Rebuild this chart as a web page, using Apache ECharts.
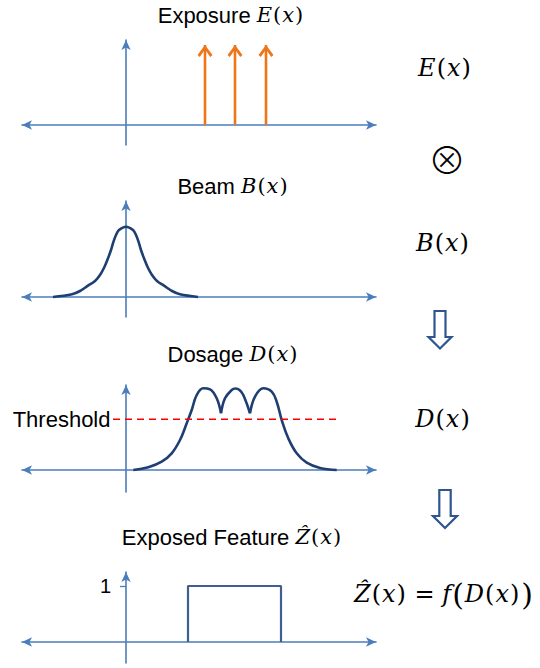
<!DOCTYPE html>
<html><head><meta charset="utf-8">
<script src="https://cdn.jsdelivr.net/npm/echarts@6/dist/echarts.min.js"></script>
<style>html,body{margin:0;padding:0;background:#fff}#c{width:540px;height:668px}</style>
</head><body><div id="c"></div>
<script>
// ---- data (x measured from the vertical axis, arbitrary units) ----
const impulseX = [79, 109, 140];
const impulseHeight = 80;
const beamCurve = [[-73,0],[-54,2.7],[-46,6],[-38,11.3],[-31,16],[-26,22],[-21.7,29.7],[-18,38.7],[-15,47],[-12.5,55.3],[-10,62],[-7,67],[0,70.3],[7,67],[10,62],[12.5,55.3],[15,47],[18,38.7],[21.7,29.7],[26,22],[31,16],[38,11.3],[46,6],[54,2.7],[72,0]];
const dosageLeft = [[7.3,0],[22.3,2.7],[35.7,8.3],[45.7,16.7],[54,30],[60.7,46.7],[65.7,60],[70.7,75],[77.3,81.7],[84,80.7],[90.7,71.7],[95,56.7]];
const dosageMid = [[95,56.7],[99,71.7],[105.7,80],[109.5,81.5],[113.5,80],[117.3,75],[124,56.7]];
const dosageRight = [[124,56.7],[129,73.3],[137.3,81.7],[145.7,78.3],[150.7,68.3],[155.7,50],[162.3,31.7],[170.7,16.7],[180.7,7.3],[194,2],[210.7,0]];
const thresholdLevel = 50.7;
const thresholdRange = [-13, 211];
const featureEdges = [62, 155];
const featureLevel = 1;
const featureTicks = [1];

// ---- styles ----
const axisColor = '#4A7EBB';
const curveColor = '#1F3E71';
const rectColor = '#3F5F91';
const orange = '#EE7518';
const arrowBlue = '#2E5590';
const sans = 'Liberation Sans, Arial, sans-serif';
const mathF = 'DejaVu Serif, serif';
const chevron = 'path://M8,0 L16,10 L13.6,12 L8,4.6 L2.4,12 L0,10 Z';

const grids = [
  {left: 22, width: 354, top: 40, height: 105},
  {left: 22, width: 354, top: 201, height: 116},
  {left: 22, width: 354, top: 385, height: 107},
  {left: 22, width: 354, top: 572, height: 91}
];
const yRanges = [[-20, 85], [-20, 96], [-22, 85], [-0.375, 1.25]];

const xAxes = grids.map((g, i) => ({
  gridIndex: i, type: 'value', min: -104, max: 250,
  axisLine: {onZero: true, symbol: ['arrow', 'arrow'], symbolSize: [7, 10], lineStyle: {color: axisColor, width: 1.6}},
  axisTick: {show: false}, axisLabel: {show: false}, splitLine: {show: false}
}));
const yAxes = grids.map((g, i) => ({
  gridIndex: i, type: 'value', min: yRanges[i][0], max: yRanges[i][1],
  axisLine: {onZero: true, symbol: ['none', 'arrow'], symbolSize: [7, 10], lineStyle: {color: axisColor, width: 1.6}},
  axisTick: {show: false}, axisLabel: {show: false}, splitLine: {show: false}
}));

const series = [];
impulseX.forEach(x => {
  series.push({
    type: 'line', xAxisIndex: 0, yAxisIndex: 0, silent: true, animation: false,
    data: [
      {value: [x, 0], symbol: 'none'},
      {value: [x, impulseHeight], symbol: chevron, symbolSize: [15, 12], symbolOffset: [0, 6]}
    ],
    lineStyle: {color: orange, width: 2.6}, itemStyle: {color: orange}
  });
});
series.push({type: 'line', xAxisIndex: 1, yAxisIndex: 1, data: beamCurve, smooth: 0.35, showSymbol: false, silent: true, animation: false,
  lineStyle: {color: curveColor, width: 2.6}});
[dosageLeft, dosageMid, dosageRight].forEach(seg => {
  series.push({type: 'line', xAxisIndex: 2, yAxisIndex: 2, data: seg, smooth: 0.4, showSymbol: false, silent: true, animation: false,
    lineStyle: {color: curveColor, width: 2.6}});
});
series.push({type: 'line', xAxisIndex: 2, yAxisIndex: 2, silent: true, animation: false,
  symbol: 'circle', symbolSize: 1, itemStyle: {color: 'rgba(0,0,0,0)'},
  data: [
    {value: [thresholdRange[0], thresholdLevel], label: {show: true, position: 'left', distance: 2, formatter: 'Threshold', fontSize: 22, color: '#000', fontFamily: sans}},
    {value: [thresholdRange[1], thresholdLevel]}
  ],
  lineStyle: {color: '#FF0000', width: 1.5, type: [7, 5]}});
series.push({type: 'line', xAxisIndex: 3, yAxisIndex: 3, silent: true, animation: false, showSymbol: false,
  data: [[featureEdges[0], 0], [featureEdges[0], featureLevel], [featureEdges[1], featureLevel], [featureEdges[1], 0]],
  lineStyle: {color: rectColor, width: 2.2},
  markLine: {
    silent: true, animation: false, symbol: 'none',
    lineStyle: {color: axisColor, width: 1.3, type: 'solid'},
    label: {show: true, position: 'start', distance: 9, fontSize: 20, color: '#000', fontFamily: sans, formatter: p => String(p.value)},
    data: featureTicks.map(v => [{coord: [-6, v], value: v}, {coord: [0, v]}])
  }});

function rt(x, y, text, rich) {
  return {type: 'text', x: x, y: y, silent: true,
    style: {text: text, textAlign: 'center', textVerticalAlign: 'middle', align: 'center', verticalAlign: 'middle', rich: rich}};
}
const titleRich = {
  t: {fontFamily: sans, fontSize: 22, fill: '#000'},
  m: {fontFamily: mathF, fontStyle: 'italic', fontSize: 21, fill: '#000'},
  p: {fontFamily: mathF, fontSize: 21, fill: '#000', padding: [0, 1]}
};
const sideRich = {
  m: {fontFamily: mathF, fontStyle: 'italic', fontSize: 24, fill: '#000'},
  p: {fontFamily: mathF, fontSize: 24, fill: '#000', padding: [0, 1]},
  P: {fontFamily: mathF, fontSize: 30, fill: '#000', padding: [0, 1]},
  s: {fontFamily: mathF, fontSize: 24, fill: '#000'},
  o: {fontFamily: 'Noto Sans CJK JP, DejaVu Sans, sans-serif', fontWeight: 200, fontSize: 38, fill: '#000'}
};
function hollowArrow(cx, top, headY, tip, sw, hw) {
  return {type: 'polygon', silent: true,
    shape: {points: [[cx - sw, top], [cx + sw, top], [cx + sw, headY], [cx + hw, headY], [cx, tip], [cx - hw, headY], [cx - sw, headY]]},
    style: {fill: '#fff', stroke: arrowBlue, lineWidth: 2.2}};
}

const graphic = [
  rt(231, 15, '{t|Exposure }{m|E}{p|(}{m|x}{p|)}', titleRich),
  rt(233, 186, '{t|Beam }{m|B}{p|(}{m|x}{p|)}', titleRich),
  rt(233, 354, '{t|Dosage }{m|D}{p|(}{m|x}{p|)}', titleRich),
  rt(232, 537, '{t|Exposed Feature }{m|Ẑ}{p|(}{m|x}{p|)}', titleRich),
  rt(445, 68, '{m|E}{p|(}{m|x}{p|)}', sideRich),
  rt(447, 157, '{o|⊗}', sideRich),
  rt(443, 243, '{m|B}{p|(}{m|x}{p|)}', sideRich),
  rt(443, 419, '{m|D}{p|(}{m|x}{p|)}', sideRich),
  rt(444, 594, '{m|Ẑ}{p|(}{m|x}{p|)}{s| = }{m|f}{P|(}{m|D}{p|(}{m|x}{p|)}{P|)}', sideRich),
  hollowArrow(440, 311, 337, 348.5, 5.5, 11.5),
  hollowArrow(445, 490, 516, 528, 5.7, 12)
];

const chart = echarts.init(document.getElementById('c'), null, {renderer: 'svg'});
chart.setOption({
  animation: false,
  backgroundColor: '#fff',
  grid: grids,
  xAxis: xAxes,
  yAxis: yAxes,
  series: series,
  graphic: graphic
});
</script></body></html>
